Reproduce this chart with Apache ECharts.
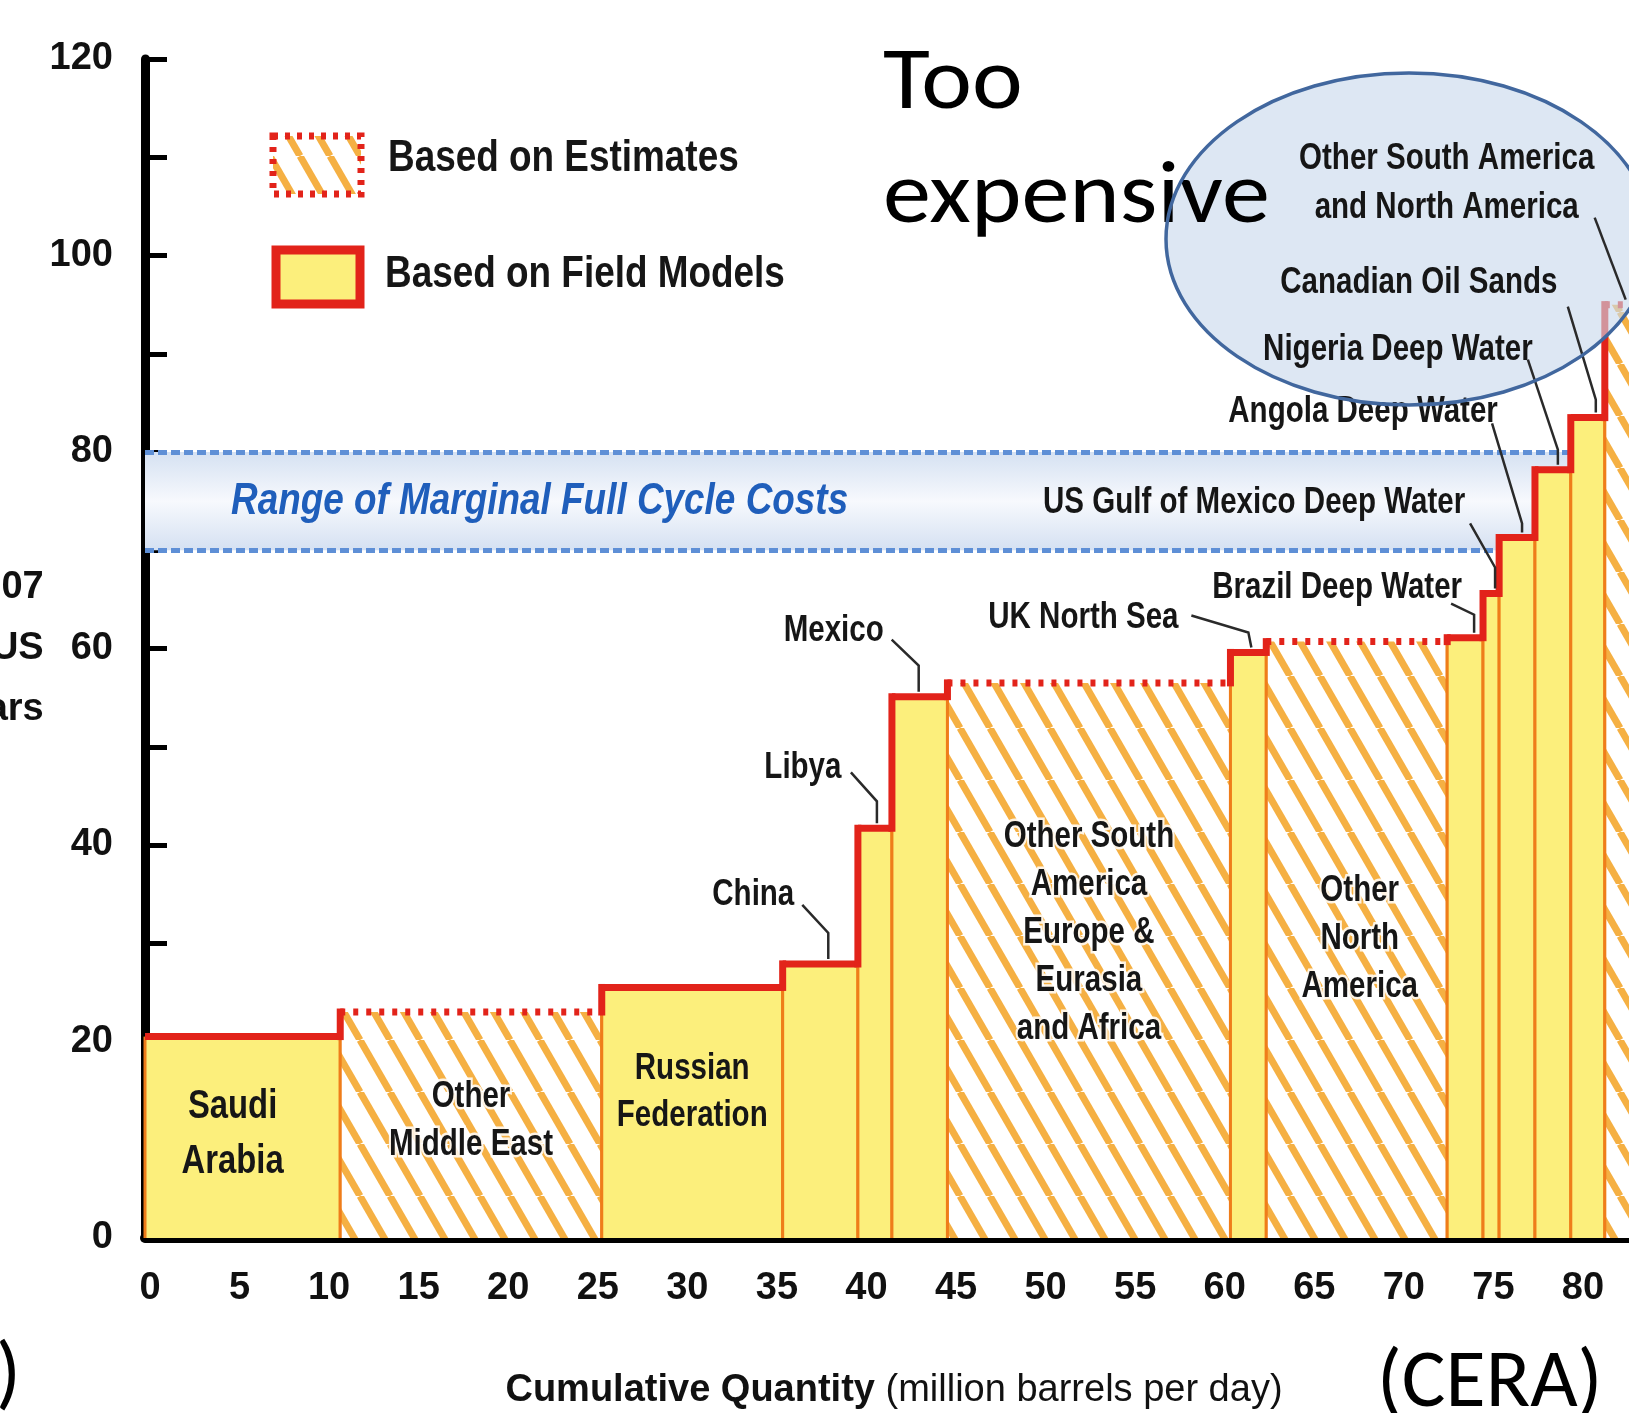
<!DOCTYPE html>
<html>
<head>
<meta charset="utf-8">
<title>Oil supply cost curve</title>
<script src="https://cdn.jsdelivr.net/npm/echarts@6/dist/echarts.min.js"></script>
<style>
  html, body { margin: 0; padding: 0; background: #fff; }
  #chart { width: 1629px; height: 1413px; }
</style>
</head>
<body>
<div id="chart"></div>
<script>
// supply blocks, left to right along the curve
const regions = [
  'Saudi Arabia', 'Other Middle East', 'Russian Federation', 'China', 'Libya', 'Mexico',
  'Other South America, Europe & Eurasia and Africa', 'UK North Sea', 'Other North America',
  'Brazil Deep Water', 'US Gulf of Mexico Deep Water', 'Angola Deep Water', 'Nigeria Deep Water',
  'Canadian Oil Sands', 'Other South America and North America'
]
// width of each block, million barrels per day
const volumes = [10.9, 14.6, 10.1, 4.2, 1.9, 3.1, 15.8, 2.0, 10.1, 2.0, 0.9, 2.0, 2.0, 1.9, 3.0]
// full cycle cost, 2007 US dollars
const costs = [20.5, 23.0, 25.5, 27.9, 41.7, 55.1, 56.5, 59.6, 60.7, 61.1, 65.6, 71.3, 78.2, 83.5, 95.0]
// 'field' = based on field models, 'est' = based on estimates
const basis = ['field', 'est', 'field', 'field', 'field', 'field', 'est', 'field', 'est', 'field', 'field', 'field', 'field', 'field', 'est']
// range of marginal full cycle costs
const marginalRange = [70, 80]

// texts written in the blocks / next to them
const insideLabels = {
  0: 'Saudi\nArabia',
  1: 'Other\nMiddle East',
  2: 'Russian\nFederation',
  6: 'Other South\nAmerica\nEurope &\nEurasia\nand Africa',
  8: 'Other\nNorth\nAmerica'
}
const calloutLabels = {
  3: 'China', 4: 'Libya', 5: 'Mexico', 7: 'UK North Sea', 9: 'Brazil Deep Water',
  10: 'US Gulf of Mexico Deep Water', 11: 'Angola Deep Water', 12: 'Nigeria Deep Water',
  13: 'Canadian Oil Sands', 14: 'Other South America\nand North America'
}

// placement of those texts, pixels (layout only)
const insideLayout = {
  0: { dx: -10, dy: 104, lh: 55, fs: 40 },
  1: { dx: 0, dy: 117, lh: 48 },
  2: { dx: 0, dy: 145, lh: 47 },
  6: { dx: 0, dy: 305, lh: 48 },
  8: { dx: 3, dy: 299, lh: 48 }
}
const calloutLayout = {
  3: { at: [-67, -69], leader: [[-18, -59], [8, -31], [8, -5]] },
  4: { at: [-72, -60], leader: [[-24, -56], [2, -27], [2, -5]] },
  5: { at: [-86, -66], leader: [[-28, -57], [-1, -31], [-1, -5]] },
  7: { at: [-165, -34], leader: [[-57, -37], [0, -20], [3, -5]] },
  9: { at: [-128, -50], leader: [[-14, -34], [9, -23], [9, -5]] },
  10: { at: [-237, -90], leader: [[-21, -70], [4, -26], [4, -5]] },
  11: { at: [-154, -125], leader: [[-25, -114], [5, -14], [5, -5]] },
  12: { at: [-155, -120], leader: [[-25, -110], [5, -20], [5, -5]] },
  13: { at: [-169, -135], leader: [[-20, -111], [8, -18], [8, -5]] },
  14: { at: [-185, -121], leader: [[-37, -87], [-6, -5]], lh: 49 }
}

const sans = '"Liberation Sans", Arial, sans-serif'
const slideFont = 'Carlito, Lato, "Open Sans", sans-serif'
const NARROW = 0.82 // squeeze for the condensed chart lettering
const RED = '#E2231A'
const ORANGE = '#EF7D1A'
const YELLOW = '#FCEF7C'
const INK = '#161616'

// diagonal stripes used for the estimated blocks
function makeHatch() {
  const c = document.createElement('canvas')
  c.width = 30
  c.height = 52
  const ctx = c.getContext('2d')
  ctx.fillStyle = '#ffffff'
  ctx.fillRect(0, 0, 30, 52)
  ctx.strokeStyle = '#F5B043'
  ctx.lineWidth = 7
  for (const dx of [-30, 0, 30]) {
    ctx.beginPath()
    ctx.moveTo(dx, 0)
    ctx.lineTo(dx + 30, 52)
    ctx.stroke()
  }
  return c
}
const hatch = { image: makeHatch(), repeat: 'repeat' }

// [start, end, cost, previous cost, index]
const blocks = []
let acc = 0
volumes.forEach((v, i) => {
  blocks.push([acc, acc + v, costs[i], i ? costs[i - 1] : 0, i])
  acc += v
})

function renderBlock(params, api) {
  const i = api.value(4)
  const est = basis[i] === 'est'
  const base = api.coord([api.value(0), 0])
  const top = api.coord([api.value(1), api.value(2)])
  const prev = api.coord([api.value(0), api.value(3)])
  const x0 = base[0], x1 = top[0], y0 = base[1], y1 = top[1]
  const children = [
    { type: 'rect', shape: { x: x0, y: y1, width: x1 - x0, height: y0 - y1 }, style: { fill: est ? hatch : YELLOW } },
    { type: 'line', shape: { x1: x0, y1: y0, x2: x0, y2: y1 }, style: { stroke: ORANGE, lineWidth: 3 } },
    { type: 'line', shape: { x1: x1, y1: y0, x2: x1, y2: y1 }, style: { stroke: ORANGE, lineWidth: 3 } }
  ]
  if (i > 0) {
    children.push({ type: 'line', shape: { x1: x0, y1: prev[1], x2: x0, y2: y1 }, style: { stroke: RED, lineWidth: 7, lineCap: 'square' } })
  }
  children.push({
    type: 'line',
    shape: { x1: x0, y1: y1, x2: x1, y2: y1 },
    style: { stroke: RED, lineWidth: 7, lineDash: est ? [5, 8] : null }
  })
  return { type: 'group', children }
}

function renderLabel(params, api) {
  const i = api.value(4)
  const mid = (api.value(0) + api.value(1)) / 2
  const top = api.coord([mid, api.value(2)])
  const base = api.coord([mid, 0])
  const children = []
  if (insideLabels[i]) {
    const l = insideLayout[i]
    const halo = basis[i] === 'est' ? { stroke: 'rgba(255,255,255,0.85)', lineWidth: 5 } : {}
    children.push({
      type: 'text',
      x: base[0] + l.dx,
      y: base[1] - l.dy,
      scaleX: NARROW,
      style: Object.assign({
        text: insideLabels[i], align: 'center', verticalAlign: 'middle',
        font: 'bold ' + (l.fs || 36) + 'px ' + sans, lineHeight: l.lh, fill: INK
      }, halo)
    })
  }
  if (calloutLabels[i]) {
    const c = calloutLayout[i]
    children.push({
      type: 'polyline',
      shape: { points: c.leader.map(p => [top[0] + p[0], top[1] + p[1]]) },
      style: { stroke: '#2a2a2a', lineWidth: 2.5, fill: null }
    })
    children.push({
      type: 'text',
      x: top[0] + c.at[0],
      y: top[1] + c.at[1],
      scaleX: NARROW,
      style: {
        text: calloutLabels[i], align: 'center', verticalAlign: 'middle',
        font: 'bold 36px ' + sans, lineHeight: c.lh || 40, fill: INK
      }
    })
  }
  return { type: 'group', children }
}

const chart = echarts.init(document.getElementById('chart'))

chart.setOption({
  backgroundColor: '#ffffff',
  animation: false,
  grid: { left: 145, right: 0, top: 59, bottom: 175, outerBoundsMode: 'none' },
  xAxis: {
    type: 'value',
    min: 0,
    max: 82.85,
    interval: 5,
    name: '{b|Cumulative Quantity}{n| (million barrels per day)}',
    nameLocation: 'middle',
    nameGap: 134,
    nameTextStyle: {
      color: '#111',
      padding: [0, 0, 0, 14],
      rich: {
        b: { fontFamily: sans, fontWeight: 'bold', fontSize: 38, color: '#111' },
        n: { fontFamily: sans, fontWeight: 'normal', fontSize: 38, color: '#111' }
      }
    },
    axisLine: { lineStyle: { color: '#000', width: 10 } },
    axisTick: { show: false },
    splitLine: { show: false },
    axisLabel: {
      color: '#111',
      fontFamily: sans,
      fontWeight: 'bold',
      fontSize: 38,
      margin: 32,
      padding: [0, 0, 0, 10],
      formatter: v => (v % 5 === 0 ? String(v) : '')
    }
  },
  yAxis: {
    type: 'value',
    min: 0,
    max: 120,
    interval: 20,
    name: '2007\nUS\nDollars',
    nameLocation: 'middle',
    nameRotate: 0,
    nameGap: 97,
    nameTextStyle: { color: '#111', fontFamily: sans, fontWeight: 'bold', fontSize: 38, lineHeight: 61 },
    axisLine: { lineStyle: { color: '#000', width: 9 } },
    axisTick: { inside: true, length: 22, lineStyle: { color: '#000', width: 5 } },
    minorTick: { show: true, splitNumber: 2, length: 22, lineStyle: { color: '#000', width: 5 } },
    splitLine: { show: false },
    minorSplitLine: { show: false },
    axisLabel: { color: '#111', fontFamily: sans, fontWeight: 'bold', fontSize: 38, margin: 32 }
  },
  series: [
    {
      type: 'custom',
      name: 'blocks',
      z: 10,
      data: blocks,
      encode: { x: [0, 1], y: 2 },
      renderItem: renderBlock,
      markArea: {
        silent: true,
        itemStyle: {
          color: {
            type: 'linear', x: 0, y: 0, x2: 0, y2: 1,
            colorStops: [
              { offset: 0, color: '#d5e1f2' },
              { offset: 0.5, color: '#f7f9fd' },
              { offset: 1, color: '#d5e1f2' }
            ]
          }
        },
        label: { show: false },
        data: [[{ yAxis: marginalRange[0] }, { yAxis: marginalRange[1] }]]
      },
      markLine: {
        silent: true,
        symbol: ['none', 'none'],
        label: { show: false },
        lineStyle: { color: '#5E8FD6', width: 5, type: [9, 4] },
        data: [{ yAxis: marginalRange[0] }, { yAxis: marginalRange[1] }]
      }
    },
    {
      type: 'custom',
      name: 'labels',
      z: 20,
      data: blocks,
      encode: { x: [0, 1], y: 2 },
      renderItem: renderLabel
    }
  ]
})

// band caption sits in the middle of the marginal cost range
const bandY = chart.convertToPixel({ yAxisIndex: 0 }, (marginalRange[0] + marginalRange[1]) / 2)
const axisX = chart.convertToPixel({ xAxisIndex: 0 }, 0)

chart.setOption({
  graphic: [
    {
      type: 'text', z: 12, x: axisX + 86, y: bandY, scaleX: NARROW,
      style: { text: 'Range of Marginal Full Cycle Costs', font: 'italic bold 45px ' + sans, fill: '#1F5EBB', verticalAlign: 'middle' }
    },
    // legend
    {
      type: 'rect', z: 30,
      shape: { x: 273, y: 136, width: 88, height: 58 },
      style: { fill: hatch, stroke: RED, lineWidth: 7, lineDash: [5, 7] }
    },
    {
      type: 'text', z: 30, x: 388, y: 159, scaleX: NARROW,
      style: { text: 'Based on Estimates', font: 'bold 45px ' + sans, fill: INK, verticalAlign: 'middle' }
    },
    {
      type: 'rect', z: 30,
      shape: { x: 276, y: 250, width: 84, height: 54 },
      style: { fill: YELLOW, stroke: RED, lineWidth: 9 }
    },
    {
      type: 'text', z: 30, x: 385, y: 275, scaleX: NARROW,
      style: { text: 'Based on Field Models', font: 'bold 45px ' + sans, fill: INK, verticalAlign: 'middle' }
    },
    // slide annotations
    {
      type: 'text', z: 40, x: 883, y: 86, scaleX: 1.08,
      style: { text: 'Too', font: '89px ' + slideFont, fill: '#000', verticalAlign: 'middle' }
    },
    {
      type: 'text', z: 40, x: 883, y: 200, scaleX: 1.08,
      style: { text: 'expensive', font: '89px ' + slideFont, fill: '#000', verticalAlign: 'middle' }
    },
    {
      type: 'ellipse', z: 15,
      shape: { cx: 1409, cy: 239, rx: 243, ry: 166 },
      style: { fill: 'rgba(200,216,236,0.62)' }
    },
    {
      type: 'ellipse', z: 50,
      shape: { cx: 1409, cy: 239, rx: 243, ry: 166 },
      style: { fill: null, stroke: '#41679E', lineWidth: 3.5 }
    },
    {
      type: 'text', z: 40, x: 1377, y: 1385,
      style: { text: '(CERA)', font: '82px ' + slideFont, fill: '#000', verticalAlign: 'middle' }
    },
    {
      type: 'text', z: 40, x: -4, y: 1378,
      style: { text: ')', font: '82px ' + slideFont, fill: '#000', verticalAlign: 'middle' }
    }
  ]
})
</script>
</body>
</html>
